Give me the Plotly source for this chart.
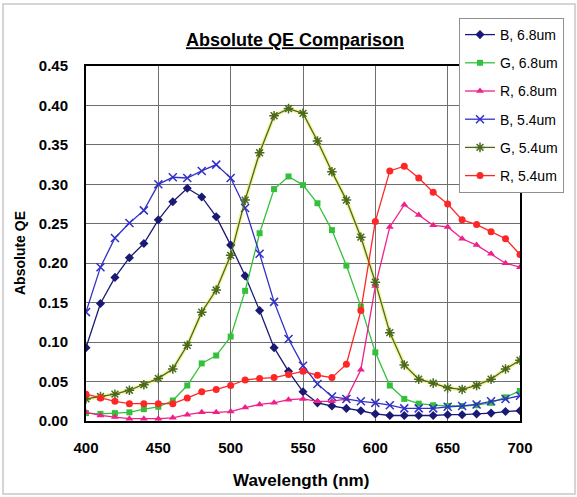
import plotly.graph_objects as go

wavelength = list(range(400, 701, 10))

b_68 = [0.093, 0.149, 0.182, 0.207, 0.225, 0.255, 0.278, 0.295, 0.284, 0.259,
        0.223, 0.184, 0.140, 0.093, 0.063, 0.037, 0.023, 0.019, 0.016, 0.013,
        0.009, 0.007, 0.007, 0.007, 0.007, 0.008, 0.008, 0.009, 0.010, 0.012, 0.013]
g_68 = [0.010, 0.009, 0.010, 0.011, 0.015, 0.018, 0.026, 0.045, 0.073, 0.083,
        0.107, 0.165, 0.238, 0.294, 0.310, 0.299, 0.276, 0.242, 0.197, 0.145,
        0.087, 0.045, 0.028, 0.022, 0.020, 0.019, 0.019, 0.020, 0.023, 0.030, 0.038]
r_68 = [0.011, 0.007, 0.005, 0.003, 0.003, 0.003, 0.004, 0.008, 0.011, 0.011,
        0.012, 0.017, 0.021, 0.023, 0.027, 0.028, 0.025, 0.025, 0.028, 0.065,
        0.171, 0.246, 0.274, 0.261, 0.248, 0.246, 0.231, 0.223, 0.212, 0.200, 0.195]
b_54 = [0.138, 0.195, 0.232, 0.251, 0.267, 0.300, 0.309, 0.308, 0.317, 0.325,
        0.308, 0.270, 0.212, 0.151, 0.104, 0.070, 0.047, 0.031, 0.028, 0.025,
        0.023, 0.020, 0.016, 0.016, 0.016, 0.018, 0.019, 0.021, 0.025, 0.028, 0.032]
g_54 = [0.028, 0.031, 0.034, 0.039, 0.046, 0.054, 0.066, 0.096, 0.138, 0.166,
        0.210, 0.280, 0.340, 0.387, 0.396, 0.390, 0.355, 0.316, 0.280, 0.233,
        0.176, 0.112, 0.071, 0.053, 0.048, 0.042, 0.040, 0.045, 0.053, 0.066, 0.077]
r_54 = [0.034, 0.029, 0.025, 0.022, 0.022, 0.022, 0.022, 0.029, 0.037, 0.040,
        0.045, 0.052, 0.054, 0.055, 0.059, 0.063, 0.058, 0.055, 0.072, 0.140,
        0.253, 0.317, 0.323, 0.308, 0.290, 0.275, 0.255, 0.249, 0.240, 0.231, 0.211]

series_names = ["B, 6.8um", "G, 6.8um", "R, 6.8um", "B, 5.4um", "G, 5.4um", "R, 5.4um"]
series_values = [b_68, g_68, r_68, b_54, g_54, r_54]
colors = ["#1a1a75", "#33c13a", "#f0208a", "#3030c8", "#4a6a1a", "#ff2626"]
symbols = ["diamond", "square", "triangle-up", "x-thin-open", "asterisk-open", "circle"]
sizes = [7, 6, 7, 8, 8, 7]

x_ticks = [400, 450, 500, 550, 600, 650, 700]
y_ticks = [0.0, 0.05, 0.10, 0.15, 0.20, 0.25, 0.30, 0.35, 0.40, 0.45]

L, R, T, B = 86, 57, 66, 76
W, H = 577, 497
PW, PH = W - L - R, H - T - B


def px(xp):
    return (xp - L) / PW


def py(yp):
    return (H - B - yp) / PH


fig = go.Figure()

# yellowish halo under the G 5.4um line (as in the scanned original)
fig.add_trace(go.Scatter(x=wavelength, y=g_54, mode="lines",
                         line=dict(color="rgba(235,235,90,0.55)", width=4),
                         showlegend=False, hoverinfo="skip"))

for i, (name, vals) in enumerate(zip(series_names, series_values)):
    mk = dict(symbol=symbols[i], size=sizes[i], color=colors[i])
    if symbols[i].endswith("-open"):
        mk["line"] = dict(color=colors[i], width=1.5)
    fig.add_trace(go.Scatter(
        x=wavelength, y=vals, mode="lines+markers", name=name,
        legendgroup=name,
        line=dict(color=colors[i], width=1.3),
        marker=mk,
    ))

fig.update_layout(
    width=W, height=H,
    paper_bgcolor="white", plot_bgcolor="white",
    margin=dict(l=L, r=R, t=T, b=B, autoexpand=False),
    font=dict(family="Arial, Liberation Sans, sans-serif", color="black"),
    title=dict(text="<b><u>Absolute QE Comparison</u></b>", x=295 / W, xanchor="center",
               y=1 - 40 / H, yanchor="middle", font=dict(size=18)),
    showlegend=True,
    legend=dict(x=px(459), y=py(18), xanchor="left", yanchor="top",
                bgcolor="white", bordercolor="#909090", borderwidth=1,
                font=dict(size=14), tracegroupgap=7, itemwidth=30),
    xaxis=dict(range=[400, 700], tickvals=x_ticks, ticktext=[f"<b>{v}</b>" for v in x_ticks],
               showgrid=True, gridcolor="#6e6e6e", gridwidth=1,
               showline=True, linecolor="black", linewidth=2, mirror=True,
               zeroline=False, ticks="", ticklabelstandoff=12, automargin=False,
               tickfont=dict(size=15)),
    yaxis=dict(range=[0, 0.45], tickvals=y_ticks, ticktext=[f"<b>{v:.2f}</b>" for v in y_ticks],
               showgrid=True, gridcolor="#6e6e6e", gridwidth=1,
               showline=True, linecolor="black", linewidth=2, mirror=True,
               zeroline=False, ticks="", ticklabelstandoff=13, automargin=False,
               tickfont=dict(size=15)),
    annotations=[
        dict(text="<b>Wavelength (nm)</b>", xref="paper", yref="paper",
             x=px(301), y=py(480), xanchor="center", yanchor="middle",
             showarrow=False, font=dict(size=17)),
        dict(text="<b>Absolute QE</b>", xref="paper", yref="paper",
             x=px(20), y=py(253), xanchor="center", yanchor="middle",
             textangle=-90, showarrow=False, font=dict(size=14)),
    ],
    shapes=[dict(type="rect", xref="paper", yref="paper",
                 x0=px(3), x1=px(575), y0=py(494), y1=py(4),
                 line=dict(color="#c8c8c8", width=1.5), layer="below")],
)

fig.write_html("out.html", config={"displayModeBar": False},
               post_script="document.body.style.margin='0';document.body.style.overflow='hidden';")
